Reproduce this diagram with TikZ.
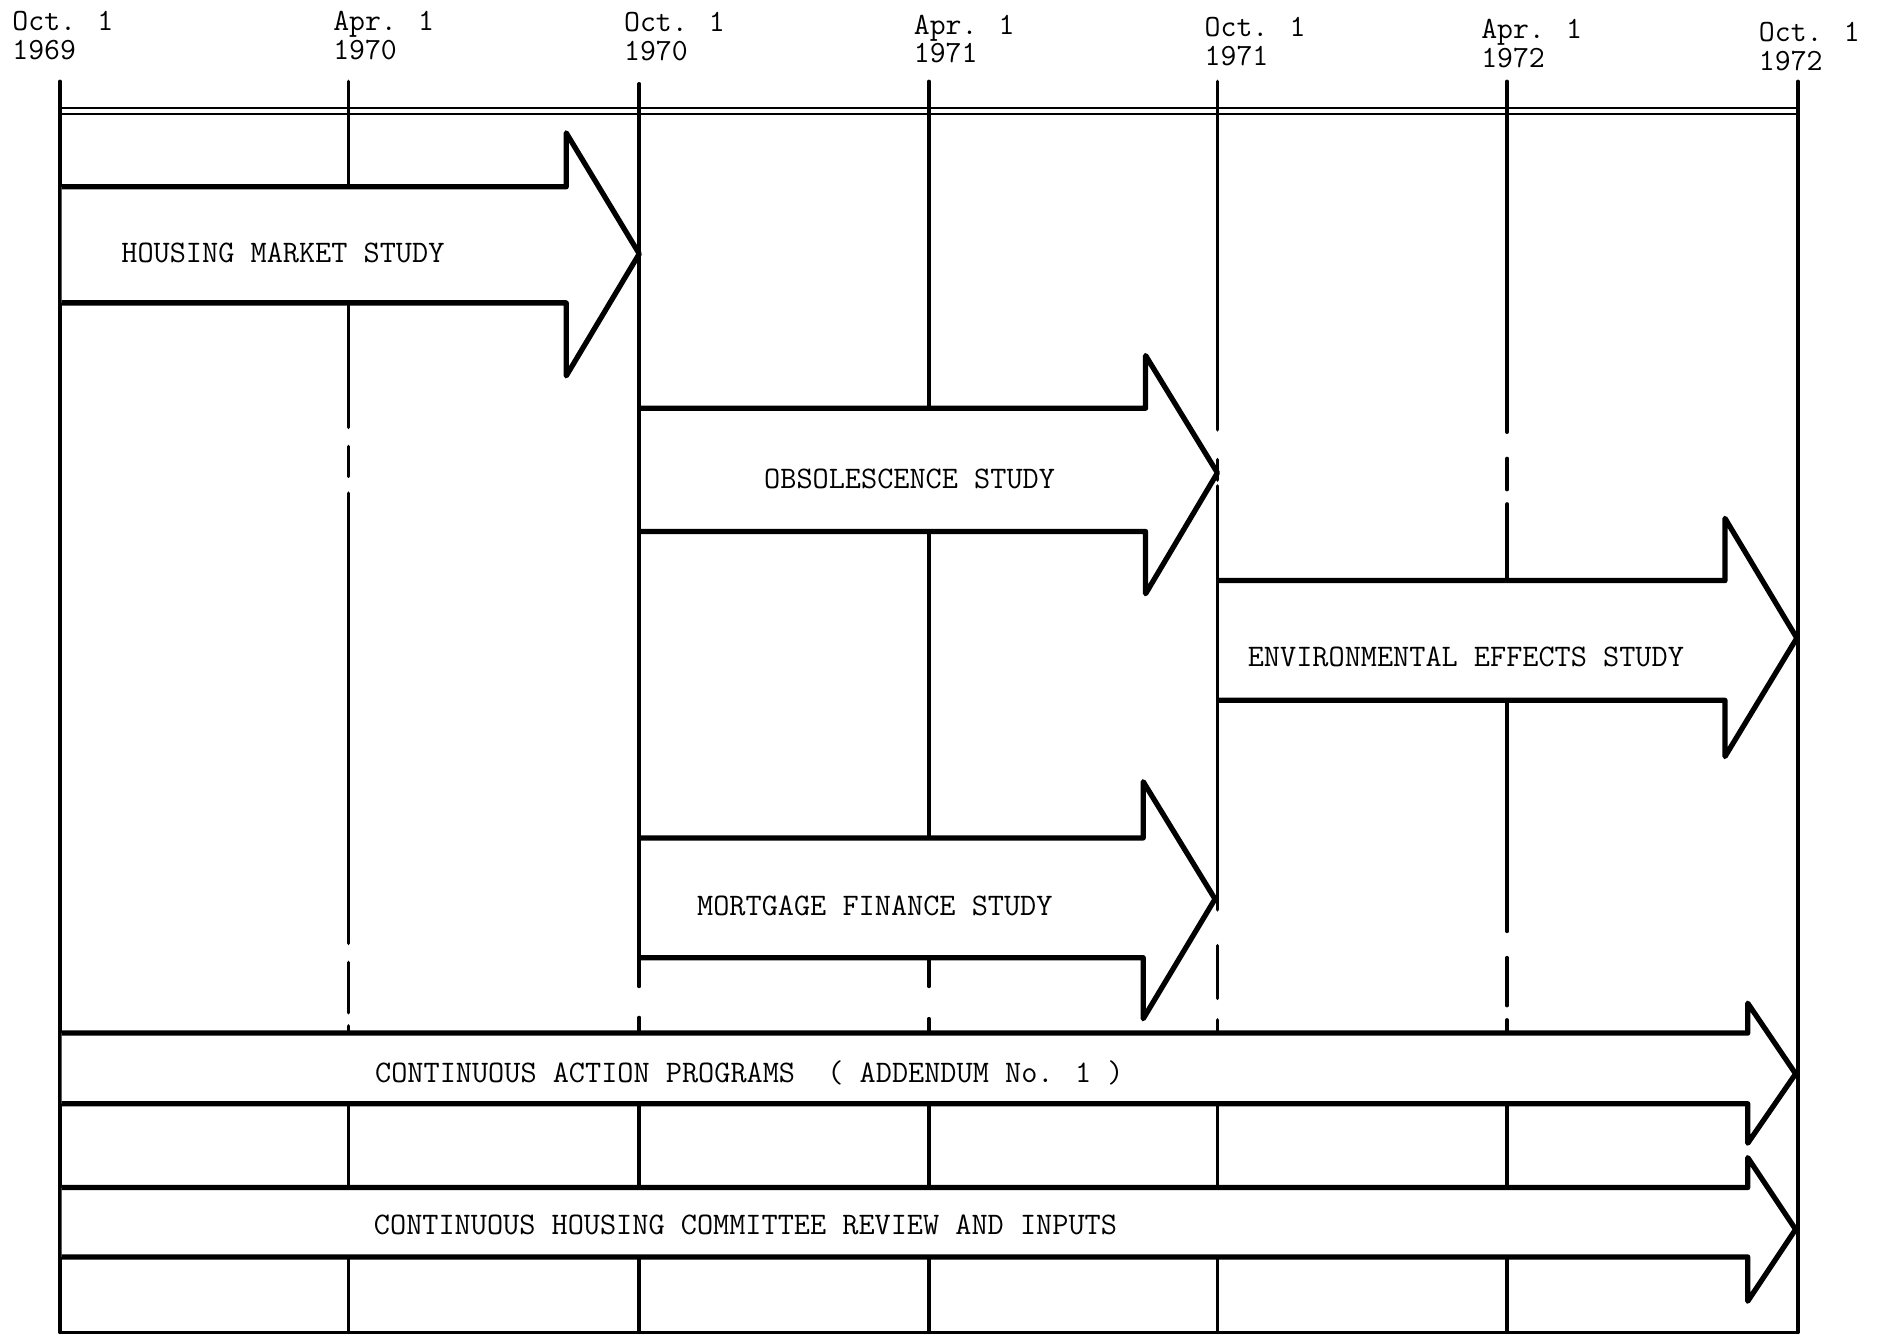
\documentclass[tikz,border=0pt]{standalone}
\usepackage{tikz}

% one study bar: left x, shaft top, shaft bottom, head base x, head top, head bottom, tip x, tip y
\newcommand{\studyarrow}[8]{%
  \filldraw[bararrow] (#1+1.5,#2) -- (#4,#2) -- (#4,#5) -- (#7,#8) -- (#4,#6) -- (#4,#3) -- (#1+1.5,#3);}

\begin{document}
\begin{tikzpicture}[
    x=0.5pt, y=-0.5pt,
    dateline/.style={line width=1.5pt, line cap=round},
    rule/.style={line width=1pt},
    bararrow/.style={draw, fill=white, line width=2.2pt, line join=round},
    lbl/.style={font=\fontsize{13.1}{12}\selectfont\ttfamily, inner sep=0pt, anchor=west},
    datelbl/.style={font=\fontsize{12.9}{12}\selectfont\ttfamily, align=left, inner sep=0pt, anchor=north west}
]
\useasboundingbox (0,0) rectangle (1568,1116);

% dates along the top
\node[datelbl] (o69) at (10,9)   {Oct. 1\\1969};
\node[datelbl] (a70) at (278,9)  {Apr. 1\\1970};
\node[datelbl] (o70) at (521,10) {Oct. 1\\1970};
\node[datelbl] (a71) at (763,12) {Apr. 1\\1971};
\node[datelbl] (o71) at (1006,14) {Oct. 1\\1971};
\node[datelbl] (a72) at (1237,16) {Apr. 1\\1972};
\node[datelbl] (o72) at (1469,18) {Oct. 1\\1972};

% double rule and frame
\draw[rule] (50,90) -- (1502,90);
\draw[rule] (50,95) -- (1502,95);
\draw[rule] (50,1113) -- (1502,1113);

% date lines, broken where nothing runs
\draw[dateline] (50,68) -- (50,1113);
\draw[dateline] (291,68) -- (291,357) (291,373) -- (291,398) (291,412) -- (291,788)
  (291,804) -- (291,846) (291,857) -- (291,1113);
\draw[dateline] (534,70) -- (534,824) (534,850) -- (534,1113);
\draw[dateline] (776,68) -- (776,824) (776,851) -- (776,1113);
\draw[dateline] (1017,68) -- (1017,359) (1017,384) -- (1017,401) (1017,406) -- (1017,760)
  (1017,790) -- (1017,834) (1017,852) -- (1017,1113);
\draw[dateline] (1259,68) -- (1259,361) (1259,383) -- (1259,409) (1259,421) -- (1259,778)
  (1259,800) -- (1259,840) (1259,852) -- (1259,1113);
\draw[dateline] (1502,68) -- (1502,1113);

% studies
\studyarrow{50}{156}{253}{473}{111}{314}{534}{212}
\node[lbl] (hms) at (101,211) {HOUSING MARKET STUDY};

\studyarrow{534}{341}{444}{957}{297}{496}{1017}{395}
\node[lbl] (obs) at (638,400) {OBSOLESCENCE STUDY};

\studyarrow{1017}{485}{585}{1441}{433}{632}{1501}{533}
\node[lbl] (env) at (1042,549) {ENVIRONMENTAL EFFECTS STUDY};

\studyarrow{534}{700}{800}{955}{653}{851}{1015}{751}
\node[lbl] (mfs) at (582,757) {MORTGAGE FINANCE STUDY};

% continuous work
\studyarrow{50}{863}{922}{1460}{838}{955}{1500}{897}
\node[lbl] (cap) at (313,896) {CONTINUOUS ACTION PROGRAMS\ \ ( ADDENDUM No. 1 )};

\studyarrow{50}{992}{1050}{1460}{967}{1087}{1500}{1027}
\node[lbl] (chc) at (312,1023) {CONTINUOUS HOUSING COMMITTEE REVIEW AND INPUTS};
\end{tikzpicture}
\end{document}
